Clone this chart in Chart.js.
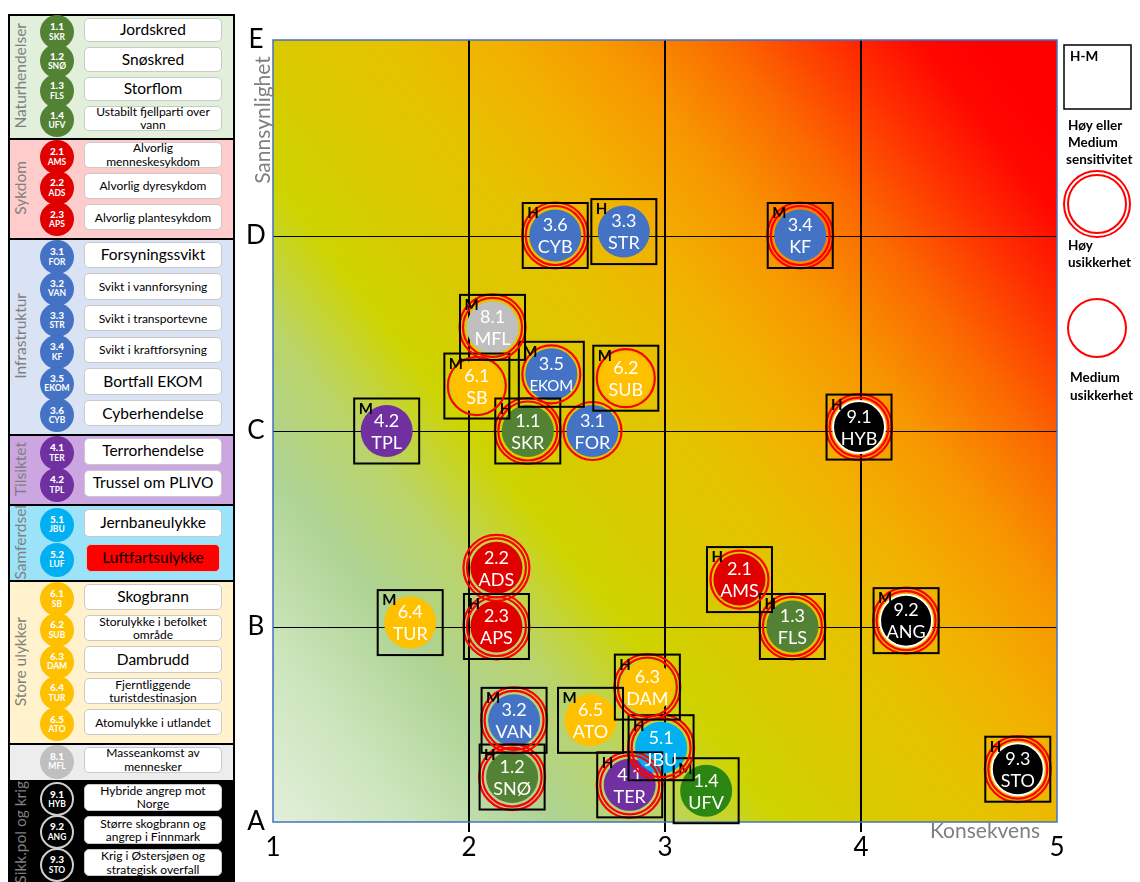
<!DOCTYPE html>
<html lang="no">
<head>
<meta charset="utf-8">
<title>Risikomatrise</title>
<script src="https://cdn.jsdelivr.net/npm/chart.js@4.4.1/dist/chart.umd.min.js"></script>
<style>
  body { margin: 0; background: #fff; font-family: Lato, "Open Sans", sans-serif; }
  #wrap { position: relative; width: 1140px; height: 882px; overflow: hidden; }
  #riskChart { position: absolute; left: 0; top: 0; }
  .band { position: absolute; left: 8px; width: 227px; border: 2px solid #000; border-bottom: none; box-sizing: border-box; }
  .grp { position: absolute; left: 8px; width: 24px; display: flex; align-items: center; justify-content: center; color: #7f7f7f; font-size: 15.5px; }
  .grp span { writing-mode: vertical-rl; transform: rotate(180deg); white-space: nowrap; }
  .dot { position: absolute; width: 34px; height: 34px; border-radius: 50%; color: #fff; font-weight: bold;
         display: flex; flex-direction: column; align-items: center; justify-content: center; line-height: 1.15; box-sizing: border-box; }
  .dot b { font-size: 10px; }
  .dot i { font-style: normal; font-size: 8.5px; }
  .lbl { position: absolute; left: 84px; width: 138px; background: #fff; border: 1.5px solid #c9c9c9; border-radius: 5px;
         box-sizing: border-box; display: flex; align-items: center; justify-content: center; text-align: center; line-height: 1.1; color: #000; }
</style>
</head>
<body>
<div id="wrap">
  <canvas id="riskChart" width="1140" height="882"></canvas>
</div>
<script>
// hendelser plassert i matrisen
const codes = ['1.1', '1.2', '1.3', '1.4', '2.1', '2.2', '2.3', '3.1', '3.2', '3.3', '3.4', '3.5', '3.6',
               '4.1', '4.2', '5.1', '6.1', '6.2', '6.3', '6.4', '6.5', '8.1', '9.1', '9.2', '9.3'];
const abbrevs = ['SKR', 'SNØ', 'FLS', 'UFV', 'AMS', 'ADS', 'APS', 'FOR', 'VAN', 'STR', 'KF', 'EKOM', 'CYB',
                 'TER', 'TPL', 'JBU', 'SB', 'SUB', 'DAM', 'TUR', 'ATO', 'MFL', 'HYB', 'ANG', 'STO'];
const consequence = [2.30, 2.22, 3.65, 3.21, 3.38, 2.14, 2.14, 2.63, 2.23, 2.79, 3.69, 2.42, 2.44,
                     2.82, 1.58, 2.98, 2.04, 2.80, 2.91, 1.70, 2.62, 2.12, 3.99, 4.23, 4.80];
const likelihood = [2.00, 0.23, 1.00, 0.16, 1.24, 1.30, 1.00, 2.00, 0.52, 3.02, 3.00, 2.29, 3.00,
                    0.19, 2.00, 0.38, 2.23, 2.27, 0.69, 1.02, 0.52, 2.53, 2.02, 1.03, 0.27];
// H/M = høy/medium sensitivitet (firkant), '' = ingen
const sensitivity = ['H', 'H', 'H', 'M', 'H', '', 'H', '', 'M', 'H', 'M', 'M', 'H',
                     'H', 'M', 'H', 'M', 'M', 'H', 'M', 'M', 'M', 'H', 'M', 'H'];
// H = høy usikkerhet (dobbel ring), M = medium (enkel ring)
const uncertainty = ['H', 'H', 'H', '', 'M', 'H', 'H', 'M', 'H', '', 'H', 'M', 'H',
                     'H', '', 'H', 'M', 'M', 'H', '', '', 'H', 'H', 'H', 'H'];

const xTickValues = [1, 2, 3, 4, 5];
const xTickLabels = ['1', '2', '3', '4', '5'];
const yTickLabels = ['A', 'B', 'C', 'D', 'E'];

// forklaring til venstre
const legendCodes = ['1.1', '1.2', '1.3', '1.4', '2.1', '2.2', '2.3', '3.1', '3.2', '3.3', '3.4', '3.5', '3.6',
                     '4.1', '4.2', '5.1', '5.2', '6.1', '6.2', '6.3', '6.4', '6.5', '8.1', '9.1', '9.2', '9.3'];
const legendAbbr = ['SKR', 'SNØ', 'FLS', 'UFV', 'AMS', 'ADS', 'APS', 'FOR', 'VAN', 'STR', 'KF', 'EKOM', 'CYB',
                    'TER', 'TPL', 'JBU', 'LUF', 'SB', 'SUB', 'DAM', 'TUR', 'ATO', 'MFL', 'HYB', 'ANG', 'STO'];
const legendNames = ['Jordskred', 'Snøskred', 'Storflom', 'Ustabilt fjellparti over vann',
                     'Alvorlig menneskesykdom', 'Alvorlig dyresykdom', 'Alvorlig plantesykdom',
                     'Forsyningssvikt', 'Svikt i vannforsyning', 'Svikt i transportevne', 'Svikt i kraftforsyning',
                     'Bortfall EKOM', 'Cyberhendelse', 'Terrorhendelse', 'Trussel om PLIVO',
                     'Jernbaneulykke', 'Luftfartsulykke', 'Skogbrann', 'Storulykke i befolket område', 'Dambrudd',
                     'Fjerntliggende turistdestinasjon', 'Atomulykke i utlandet', 'Masseankomst av mennesker',
                     'Hybride angrep mot Norge', 'Større skogbrann og angrep i Finnmark', 'Krig i Østersjøen og strategisk overfall'];
const groupKeys = ['1', '2', '3', '4', '5', '6', '8', '9'];
const groupLabels = ['Naturhendelser', 'Sykdom', 'Infrastruktur', 'Tilsiktet', 'Samferdsel', 'Store ulykker', '', 'Sikk.pol og krig'];

const groupColor = { '1': '#548235', '2': '#e00000', '3': '#4472c4', '4': '#7030a0', '5': '#00b0f0', '6': '#ffc000', '8': '#bfbfbf', '9': '#000000' };
const groupBg = { '1': '#e2efda', '2': '#ffcccc', '3': '#dae3f3', '4': '#cca6e0', '5': '#9ce3fa', '6': '#fff2cc', '8': '#ededed', '9': '#000000' };
const bandEdges = [14, 138, 238, 434, 504, 580, 743, 780, 884];

function pointColor(code) {
  if (code === '1.4') return '#2b8711';
  return groupColor[code[0]];
}

// --- venstre panel ---
const wrap = document.getElementById('wrap');
groupKeys.forEach(function(key, gi) {
  const top = bandEdges[gi], bottom = bandEdges[gi + 1];
  const band = document.createElement('div');
  band.className = 'band';
  band.style.top = top + 'px';
  band.style.height = (bottom - top + 2) + 'px';
  band.style.background = groupBg[key];
  wrap.appendChild(band);

  if (groupLabels[gi]) {
    const g = document.createElement('div');
    g.className = 'grp';
    g.style.top = top + 'px';
    g.style.height = (bottom - top) + 'px';
    g.innerHTML = '<span>' + groupLabels[gi] + '</span>';
    wrap.appendChild(g);
  }

  const idx = legendCodes.map((c, i) => c[0] === key ? i : -1).filter(i => i >= 0);
  const rowH = (bottom - top - 6) / idx.length;
  idx.forEach(function(i, k) {
    const cy = top + 3 + rowH * (k + 0.5);
    const dot = document.createElement('div');
    dot.className = 'dot';
    dot.style.left = '40px';
    dot.style.top = (cy - 17) + 'px';
    dot.style.background = groupColor[key];
    if (key === '9') dot.style.border = '2px solid #cfcfcf';
    dot.innerHTML = '<b>' + legendCodes[i] + '</b><i>' + legendAbbr[i] + '</i>';
    wrap.appendChild(dot);

    const lbl = document.createElement('div');
    lbl.className = 'lbl';
    const h = Math.min(rowH - 5, 28);
    lbl.style.top = (cy - h / 2 - 2) + 'px';
    lbl.style.height = h + 'px';
    const name = legendNames[i];
    lbl.style.fontSize = (key === '8' || key === '9') ? '12px' : (name.length > 16 ? '12px' : '15.5px');
    if (legendCodes[i] === '5.2') { lbl.style.background = '#ff0000'; lbl.style.left = '86px'; lbl.style.width = '134px'; }
    lbl.textContent = name;
    wrap.appendChild(lbl);
  });
});

// --- matrise ---
const gradientStops = [
  [0.00, '#e2efda'], [0.10, '#cce5bc'], [0.20, '#aed393'], [0.28, '#bad468'], [0.36, '#ced400'],
  [0.44, '#dac900'], [0.52, '#e6c200'], [0.60, '#f2b000'], [0.68, '#f79600'], [0.76, '#fb6a00'],
  [0.84, '#ff3000'], [0.90, '#ff0800'], [0.94, '#ff0000'], [1.00, '#ff0000']
];

const matrixPlugin = {
  id: 'matrix',
  beforeDatasetsDraw(chart) {
    const { ctx, chartArea: a, scales: { x, y } } = chart;
    ctx.save();
    // litt mer vekt på konsekvens enn sannsynlighet i fargeovergangen
    const wx = 0.56, wy = 0.44, k = a.width / (wx * wx + wy * wy);
    const g = ctx.createLinearGradient(a.left, a.bottom, a.left + wx * k, a.bottom - wy * k);
    gradientStops.forEach(s => g.addColorStop(s[0], s[1]));
    ctx.fillStyle = g;
    ctx.fillRect(a.left, a.top, a.width, a.height);

    ctx.strokeStyle = '#000';
    ctx.lineWidth = 1;
    [1, 2, 3].forEach(function(v) {
      const py = Math.round(y.getPixelForValue(v)) + 0.5;
      ctx.beginPath(); ctx.moveTo(a.left, py); ctx.lineTo(a.right, py); ctx.stroke();
    });
    ctx.lineWidth = 2;
    [2, 3, 4].forEach(function(v) {
      const px = Math.round(x.getPixelForValue(v));
      ctx.beginPath(); ctx.moveTo(px, a.top); ctx.lineTo(px, a.bottom + 10); ctx.stroke();
    });

    ctx.strokeStyle = '#4472c4';
    ctx.lineWidth = 1.5;
    ctx.strokeRect(a.left, a.top, a.width, a.height);

    ctx.fillStyle = '#000';
    ctx.font = '26px Lato';
    ctx.textAlign = 'center';
    ctx.textBaseline = 'middle';
    xTickLabels.forEach((t, i) => ctx.fillText(t, x.getPixelForValue(xTickValues[i]), a.bottom + 26));
    yTickLabels.forEach((t, i) => ctx.fillText(t, a.left - 17, y.getPixelForValue(i)));

    ctx.fillStyle = '#7f7f7f';
    ctx.font = '21px Lato';
    ctx.textAlign = 'right';
    ctx.fillText('Konsekvens', a.right - 17, a.bottom + 9);
    ctx.save();
    ctx.translate(a.left - 10, a.top + 80);
    ctx.rotate(-Math.PI / 2);
    ctx.textAlign = 'center';
    ctx.fillText('Sannsynlighet', 0, 0);
    ctx.restore();
    ctx.restore();
  },
  afterDatasetsDraw(chart) {
    const { ctx } = chart;
    const pts = chart.getDatasetMeta(0).data;
    ctx.save();
    pts.forEach(function(p, i) {
      const cx = p.x, cy = p.y;
      ctx.strokeStyle = '#ff0000';
      ctx.lineWidth = 2.2;
      if (uncertainty[i] === 'H') {
        ring(ctx, cx, cy, 29.5);
        ring(ctx, cx, cy, 33);
      } else if (uncertainty[i] === 'M') {
        ring(ctx, cx, cy, 29);
      }
      if (sensitivity[i]) {
        ctx.strokeStyle = '#000';
        ctx.lineWidth = 2;
        ctx.strokeRect(cx - 32.5, cy - 32.5, 65, 65);
        ctx.fillStyle = '#000';
        ctx.font = 'bold 15px Lato';
        ctx.textAlign = 'left';
        ctx.textBaseline = 'middle';
        ctx.fillText(sensitivity[i], cx - 28, cy - 22);
      }
      ctx.fillStyle = '#fff';
      ctx.textAlign = 'center';
      ctx.textBaseline = 'middle';
      ctx.font = '18px Lato';
      ctx.fillText(codes[i], cx, cy - 10);
      ctx.font = abbrevs[i].length > 3 ? '15px Lato' : '18px Lato';
      ctx.fillText(abbrevs[i], cx, cy + 12);
    });
    ctx.restore();
  },
  afterDraw(chart) {
    // forklaring til høyre
    const { ctx } = chart;
    ctx.save();
    ctx.strokeStyle = '#000';
    ctx.lineWidth = 1.5;
    ctx.strokeRect(1064, 45, 67, 64);
    ctx.fillStyle = '#000';
    ctx.font = 'bold 13.5px Lato';
    ctx.textAlign = 'left';
    ctx.textBaseline = 'middle';
    ctx.fillText('H-M', 1070, 57);
    ctx.fillText('Høy eller', 1068, 126);
    ctx.fillText('Medium', 1068, 143);
    ctx.fillText('sensitivitet', 1066, 160);
    ctx.fillText('Høy', 1068, 246);
    ctx.fillText('usikkerhet', 1068, 263);
    ctx.fillText('Medium', 1070, 378);
    ctx.fillText('usikkerhet', 1070, 396);
    ctx.strokeStyle = '#ff0000';
    ctx.lineWidth = 2;
    ring(ctx, 1097, 204, 33);
    ring(ctx, 1097, 204, 29);
    ring(ctx, 1097, 328, 29);
    ctx.restore();
  }
};

function ring(ctx, cx, cy, r) {
  ctx.beginPath();
  ctx.arc(cx, cy, r, 0, Math.PI * 2);
  ctx.stroke();
}

new Chart(document.getElementById('riskChart'), {
  type: 'scatter',
  data: {
    datasets: [{
      data: consequence.map((c, i) => ({ x: c, y: likelihood[i] })),
      pointRadius: 26,
      pointHoverRadius: 26,
      pointBackgroundColor: codes.map(pointColor),
      pointBorderColor: codes.map(c => c[0] === '9' ? '#ffffff' : 'rgba(0,0,0,0)'),
      pointBorderWidth: codes.map(c => c[0] === '9' ? 2 : 0),
      clip: false
    }]
  },
  options: {
    responsive: false,
    animation: false,
    events: [],
    layout: { padding: { left: 273, right: 83, top: 40, bottom: 60 } },
    scales: {
      x: { type: 'linear', min: 1, max: 5, display: false },
      y: { type: 'linear', min: 0, max: 4, display: false }
    },
    plugins: { legend: { display: false }, tooltip: { enabled: false } }
  },
  plugins: [matrixPlugin]
});
</script>
</body>
</html>
